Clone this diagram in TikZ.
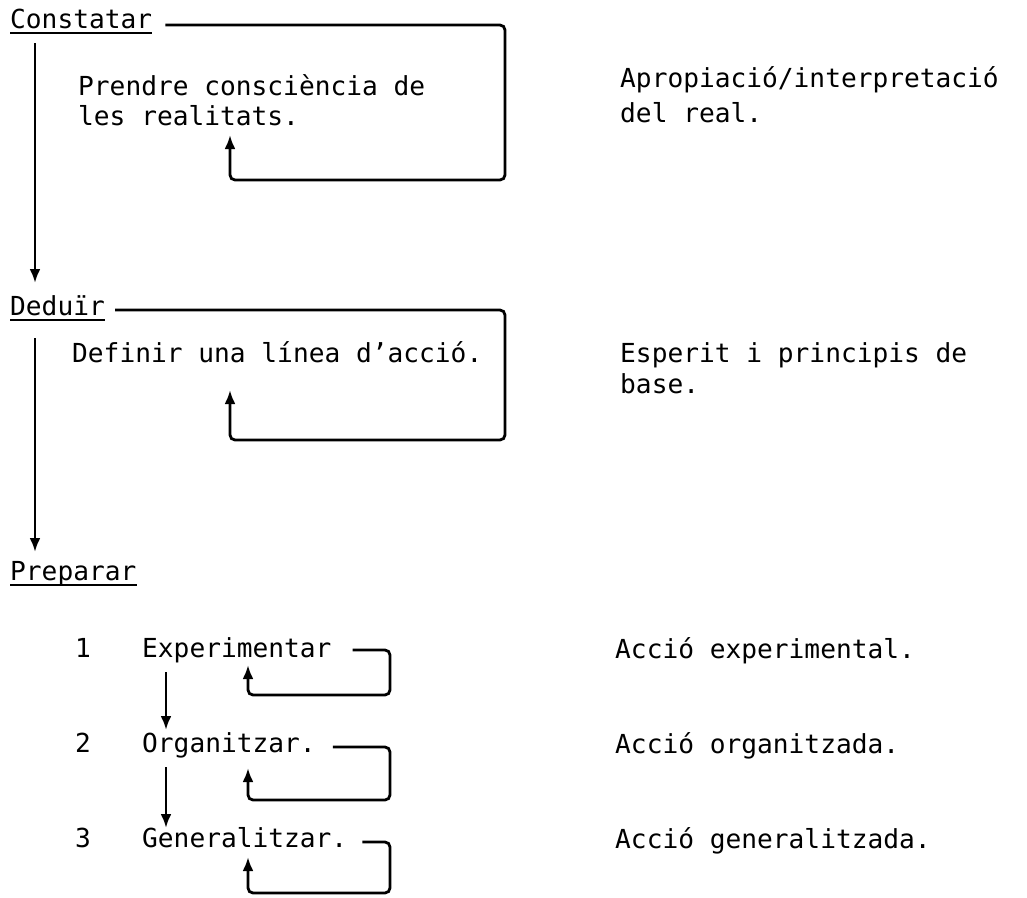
\documentclass[tikz,border=0pt]{standalone}
\usepackage{fontspec}
\usetikzlibrary{arrows.meta}
\newfontfamily\tw{DejaVu Sans Mono}
\begin{document}
\begin{tikzpicture}[x=1pt,y=-1pt,
  txt/.style={anchor=base west,inner sep=0pt,font=\tw\fontsize{26.2}{30}\selectfont},
  ul/.style={line width=2pt},
  flow/.style={line width=2.8pt,-{Latex[length=14pt,width=11pt]}},
  fb/.style={line width=2.8pt,rounded corners=5pt,-{Latex[length=14pt,width=11pt]}}]
\useasboundingbox (0,0) rectangle (1027,897);

% stage headings
\node[txt] (cons) at (10,28) {Constatar};
\node[txt] (ded)  at (10,315) {Deduïr};
\node[txt] (prep) at (10,580) {Preparar};
\foreach \n in {cons,ded,prep}
  \draw[ul] ([shift={(0,5)}]\n.base west) -- ([shift={(0,5)}]\n.base east);

% stage descriptions
\node[txt] (t1a) at (78,95)  {Prendre consciència de};
\node[txt] (t1b) at (78,125) {les realitats.};
\node[txt] (t2)  at (72,362) {Definir una línea d’acció.};

% right-hand column
\node[txt] (r1a) at (620,87)  {Apropiació/interpretació};
\node[txt] (r1b) at (620,122) {del real.};
\node[txt] (r2a) at (620,362) {Esperit i principis de};
\node[txt] (r2b) at (620,393) {base.};

% preparation steps
\node[txt] (n1) at (75,657) {1};
\node[txt] (n2) at (75,752) {2};
\node[txt] (n3) at (75,847) {3};
\node[txt] (e1) at (142,657) {Experimentar};
\node[txt] (e2) at (142,752) {Organitzar.};
\node[txt] (e3) at (142,847) {Generalitzar.};
\node[txt] (a1) at (615,658) {Acció experimental.};
\node[txt] (a2) at (615,753) {Acció organitzada.};
\node[txt] (a3) at (615,848) {Acció generalitzada.};

% main sequence
\draw[flow] ([shift={(25,15)}]cons.base west) -- ([shift={(25,-32)}]ded.base west);
\draw[flow] ([shift={(25,23)}]ded.base west) -- ([shift={(25,-28)}]prep.base west);
\draw[flow] ([shift={(24,15)}]e1.base west) -- ([shift={(24,-22)}]e2.base west);
\draw[flow] ([shift={(24,15)}]e2.base west) -- ([shift={(24,-19)}]e3.base west);

% feedback loops
\coordinate (k1) at (505,180);
\coordinate (k2) at (505,440);
\coordinate (k3) at (390,695);
\coordinate (k4) at (390,800);
\coordinate (k5) at (390,893);
\draw[fb] ([shift={(13,-3)}]cons.base east) -| (k1) -| ([shift={(152,10)}]t1b.base west);
\draw[fb] ([shift={(10,-5)}]ded.base east) -| (k2) -| ([shift={(158,28)}]t2.base west);
\draw[fb] ([shift={(21,-7)}]e1.base east) -| (k3) -| ([shift={(106,8)}]e1.base west);
\draw[fb] ([shift={(17,-5)}]e2.base east) -| (k4) -| ([shift={(106,16)}]e2.base west);
\draw[fb] ([shift={(15,-5)}]e3.base east) -| (k5) -| ([shift={(106,10)}]e3.base west);
\end{tikzpicture}
\end{document}
